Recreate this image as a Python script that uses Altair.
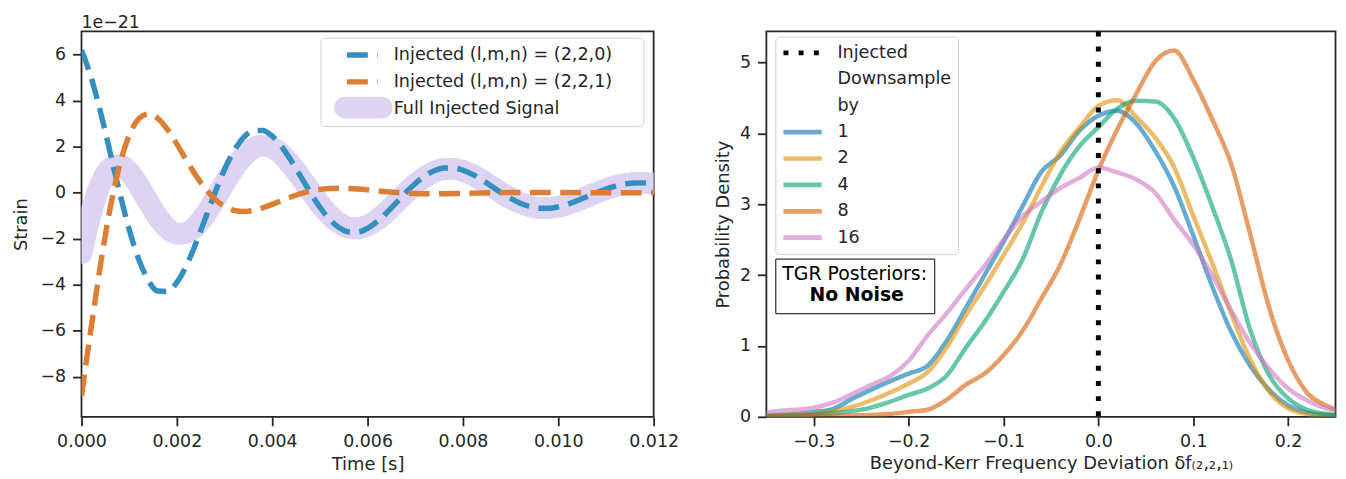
import altair as alt
import pandas as pd

FONT = "DejaVu Sans"
INK = "#262626"

# ---------------- left panel: strain in units of 1e-21 ----------------
time_s = [0.0, 0.0002, 0.0004, 0.0006, 0.0008, 0.001, 0.0012, 0.0014, 0.0016, 0.0018,
          0.002, 0.0022, 0.0024, 0.0026, 0.0028, 0.003, 0.0032, 0.0034, 0.0036, 0.0038,
          0.004, 0.0042, 0.0044, 0.0046, 0.0048, 0.005, 0.0052, 0.0054, 0.0056, 0.0058,
          0.006, 0.0062, 0.0064, 0.0066, 0.0068, 0.007, 0.0072, 0.0074, 0.0076, 0.0078,
          0.008, 0.0082, 0.0084, 0.0086, 0.0088, 0.009, 0.0092, 0.0094, 0.0096, 0.0098,
          0.01, 0.0102, 0.0104, 0.0106, 0.0108, 0.011, 0.0112, 0.0114, 0.0116, 0.0118, 0.012]
mode_220 = [6.182, 5.021, 3.484, 1.749, 0.0, -1.594, -2.896, -3.806, -4.272, -4.290,
            -3.896, -3.164, -2.195, -1.102, 0.0, 1.005, 1.825, 2.399, 2.693, 2.703,
            2.455, 1.994, 1.383, 0.694, 0.0, -0.633, -1.150, -1.511, -1.697, -1.703,
            -1.546, -1.256, -0.872, -0.438, 0.0, 0.399, 0.725, 0.952, 1.069, 1.073,
            0.975, 0.792, 0.550, 0.276, 0.0, -0.252, -0.457, -0.600, -0.673, -0.676,
            -0.614, -0.499, -0.346, -0.174, 0.0, 0.159, 0.288, 0.378, 0.424, 0.426, 0.387]
mode_221 = [-8.807, -5.899, -3.108, -0.692, 1.194, 2.490, 3.207, 3.417, 3.225, 2.749,
            2.110, 1.414, 0.745, 0.166, -0.286, -0.597, -0.768, -0.819, -0.773, -0.659,
            -0.506, -0.339, -0.179, -0.040, 0.069, 0.143, 0.184, 0.196, 0.185, 0.157,
            0.121, 0.081, 0.043, 0.010, -0.016, -0.034, -0.044, -0.047, -0.044, -0.038,
            -0.029, -0.019, -0.010, -0.003, 0.003, 0.007, 0.009, 0.010, 0.009, 0.008,
            0.006, 0.004, 0.002, 0.0, -0.001, -0.002, -0.002, -0.002, -0.002, -0.001, -0.001]
full_signal = [-2.625, -0.878, 0.376, 1.057, 1.194, 0.896, 0.311, -0.389, -1.047, -1.541,
               -1.786, -1.750, -1.450, -0.936, -0.286, 0.408, 1.057, 1.580, 1.920, 2.044,
               1.949, 1.655, 1.204, 0.654, 0.069, -0.490, -0.966, -1.315, -1.512, -1.546,
               -1.425, -1.175, -0.829, -0.428, -0.016, 0.365, 0.681, 0.905, 1.025, 1.035,
               0.946, 0.773, 0.540, 0.273, 0.003, -0.245, -0.448, -0.590, -0.664, -0.668,
               -0.608, -0.495, -0.344, -0.174, -0.001, 0.157, 0.286, 0.376, 0.422, 0.425, 0.386]
series_names = ["Injected (l,m,n) = (2,2,0)", "Injected (l,m,n) = (2,2,1)", "Full Injected Signal"]
series_colors = ["#348fc1", "#dd7e33", "#ddd4f4"]
time_ticks = [0.0, 0.002, 0.004, 0.006, 0.008, 0.010, 0.012]
strain_ticks = [-8, -6, -4, -2, 0, 2, 4, 6]

# ---------------- right panel: posterior densities ----------------
delta_f = [-0.36, -0.34, -0.32, -0.30, -0.28, -0.26, -0.24, -0.22, -0.20, -0.18,
           -0.16, -0.14, -0.12, -0.10, -0.08, -0.06, -0.04, -0.02, 0.00, 0.02,
           0.04, 0.06, 0.08, 0.10, 0.12, 0.14, 0.16, 0.18, 0.20, 0.22, 0.24, 0.26]
kde_1 = [0.015, 0.025, 0.04, 0.07, 0.11, 0.25, 0.38, 0.5, 0.61, 0.72,
         1.07, 1.53, 2.0, 2.47, 2.97, 3.46, 3.69, 4.04, 4.25, 4.32,
         4.14, 3.75, 3.25, 2.56, 1.84, 1.2, 0.72, 0.38, 0.16, 0.06, 0.025, 0.015]
kde_2 = [0.01, 0.015, 0.025, 0.04, 0.08, 0.14, 0.23, 0.34, 0.47, 0.63,
         0.98, 1.43, 1.84, 2.28, 2.73, 3.25, 3.74, 4.08, 4.39, 4.47,
         4.23, 3.94, 3.52, 2.84, 2.17, 1.46, 0.81, 0.36, 0.12, 0.04, 0.015, 0.01]
kde_4 = [0.005, 0.01, 0.02, 0.03, 0.05, 0.08, 0.13, 0.21, 0.31, 0.4,
         0.58, 0.97, 1.34, 1.76, 2.22, 2.89, 3.42, 3.82, 4.09, 4.35,
         4.46, 4.45, 4.21, 3.66, 2.97, 2.21, 1.23, 0.59, 0.26, 0.1, 0.04, 0.015]
kde_8 = [0.0, 0.005, 0.01, 0.01, 0.015, 0.02, 0.025, 0.04, 0.07, 0.1,
         0.24, 0.45, 0.61, 0.87, 1.21, 1.67, 2.15, 2.79, 3.48, 4.06,
         4.56, 5.02, 5.17, 4.76, 4.2, 3.57, 2.58, 1.54, 0.8, 0.34, 0.16, 0.06]
kde_16 = [0.05, 0.08, 0.1, 0.13, 0.2, 0.32, 0.45, 0.57, 0.79, 1.15,
          1.46, 1.8, 2.13, 2.5, 2.83, 3.04, 3.23, 3.37, 3.52, 3.45,
          3.35, 3.16, 2.78, 2.43, 2.0, 1.5, 1.04, 0.68, 0.4, 0.23, 0.12, 0.07]
downsample = ["1", "2", "4", "8", "16"]
ds_colors = ["rgba(1,115,178,0.6)", "rgba(222,143,5,0.6)", "rgba(2,158,115,0.6)",
             "rgba(213,94,0,0.6)", "rgba(204,120,188,0.6)"]
injected_value = [0.0]
legend_entries = ["Injected", "Downsample", "by"] + downsample
legend_colors = ["black", "transparent", "transparent"] + ds_colors
legend_dashes = [[5, 10.3], [1, 0], [1, 0], [1, 0], [1, 0], [1, 0], [1, 0], [1, 0]]
dev_ticks = [-0.3, -0.2, -0.1, 0.0, 0.1, 0.2]
density_ticks = [0, 1, 2, 3, 4, 5]

# ---------------- tables ----------------
left_rows = []
for name, vals in zip(series_names, [mode_220, mode_221, full_signal]):
    for t, v in zip(time_s, vals):
        left_rows.append({"t": t, "strain": v, "series": name})
left_df = pd.DataFrame(left_rows)

right_rows = []
for ds, vals in zip(downsample, [kde_1, kde_2, kde_4, kde_8, kde_16]):
    for x, v in zip(delta_f, vals):
        right_rows.append({"df": x, "density": v, "entry": ds})
right_df = pd.DataFrame(right_rows)
inj_df = pd.DataFrame({"x0": injected_value, "entry": ["Injected"]})
note_df = pd.DataFrame({"note": ["No Noise"]})

# ---------------- left chart ----------------
x_left = alt.X("t:Q", scale=alt.Scale(domain=[0, 0.012], nice=False, zero=False),
               axis=alt.Axis(values=time_ticks, format=".3f", title="Time [s]",
                             labelFlush=False, titleY=48, titleBaseline="middle"))
y_left = alt.Y("strain:Q", scale=alt.Scale(domain=[-9.73, 7.0], nice=False, zero=False),
               axis=alt.Axis(values=strain_ticks, format="d", title="Strain",
                             titleX=-60.4, titleBaseline="middle"))

legend_lines = alt.Legend(
    title=None, orient="none", legendX=240.6, legendY=6.3, padding=5,
    symbolType="stroke", symbolSize=967, symbolStrokeWidth=5.5,
    clipHeight=25, rowPadding=2, symbolOffset=18.7, labelOffset=13,
    labelFont=FONT, labelFontSize=17.7, labelColor=INK, labelLimit=400,
    labelExpr="datum.label + '\u2800\u2800'",
    strokeColor="#d0d0d0", fillColor="white", cornerRadius=4)

PILL = ("M-0.627,-0.373H0.627A0.373,0.373,0,0,1,0.627,0.373"
        "H-0.627A0.373,0.373,0,0,1,-0.627,-0.373Z")
legend_pill = alt.Legend(
    title=None, orient="none", legendX=254.2, legendY=64.2, padding=0,
    symbolType=PILL, symbolSize=3481, symbolFillColor="#ddd4f4",
    symbolStrokeColor="#ddd4f4", symbolStrokeWidth=0, symbolOpacity=1,
    clipHeight=25, labelExpr="''")

color_left = alt.Color("series:N", sort=series_names,
                       scale=alt.Scale(domain=series_names, range=series_colors),
                       legend=legend_lines)
dash_left = alt.StrokeDash("series:N", sort=series_names,
                           scale=alt.Scale(domain=series_names,
                                           range=[[21, 9.5], [21, 9.5], [1, 0]]),
                           legend=legend_lines)

base_left = alt.Chart(left_df)
band = base_left.transform_filter(alt.datum.series == "Full Injected Signal").mark_line(
    strokeWidth=22, strokeCap="round", clip=True, interpolate="monotone"
).encode(
    x=x_left, y=y_left, color=color_left,
    opacity=alt.Opacity("series:N",
                        scale=alt.Scale(domain=["Full Injected Signal"], range=[1, 1]),
                        legend=legend_pill),
)
modes = base_left.transform_filter(alt.datum.series != "Full Injected Signal").mark_line(
    strokeWidth=5.5, clip=True, interpolate="monotone"
).encode(x=x_left, y=y_left, color=color_left, strokeDash=dash_left, detail="series:N")

left = alt.layer(band, modes).properties(
    width=576, height=388,
    title=alt.TitleParams(text="1e\u221221", anchor="start", frame="group", fontSize=17.5,
                          fontWeight="normal", font=FONT, color=INK, offset=-14,
                          baseline="alphabetic"),
)

# ---------------- right chart ----------------
x_right = alt.X("df:Q", scale=alt.Scale(domain=[-0.35, 0.25], nice=False, zero=False),
                axis=alt.Axis(values=dev_ticks, format=".1f", labelFlush=False,
                              title="Beyond-Kerr Frequency Deviation \u03b4f\u208d\u2082\u201a\u2082\u201a\u2081\u208e",
                              titleY=47, titleBaseline="middle"))
y_right = alt.Y("density:Q", scale=alt.Scale(domain=[0, 5.44], nice=False, zero=True),
                axis=alt.Axis(values=density_ticks, format="d", title="Probability Density",
                              titleX=-43.4, titleBaseline="middle"))

legend_right = alt.Legend(
    title=None, orient="none", legendX=9, legendY=5.2, padding=7,
    symbolType="stroke", symbolSize=1490, symbolStrokeWidth=4.7,
    clipHeight=18.7, rowPadding=7.59, symbolOffset=-1.5, labelOffset=13,
    labelFont=FONT, labelFontSize=17.7, labelColor=INK,
    strokeColor="#d0d0d0", fillColor="white", cornerRadius=4)

color_right = alt.Color("entry:N", sort=legend_entries,
                        scale=alt.Scale(domain=legend_entries, range=legend_colors),
                        legend=legend_right)
dash_right = alt.StrokeDash("entry:N", sort=legend_entries,
                            scale=alt.Scale(domain=legend_entries, range=legend_dashes),
                            legend=legend_right)

kde = alt.Chart(right_df).mark_line(
    strokeWidth=4.5, interpolate="monotone", clip=True
).encode(x=x_right, y=y_right, color=color_right)

injected = alt.Chart(inj_df).mark_rule(strokeWidth=5).encode(
    x=alt.X("x0:Q"), color=color_right, strokeDash=dash_right,
)

note = alt.Chart(note_df).mark_point(opacity=0).encode(
    shape=alt.Shape("note:N", scale=alt.Scale(domain=["No Noise"]),
                    legend=alt.Legend(title="TGR Posteriors:", orient="none",
                                      legendX=9, legendY=228.7, padding=7,
                                      titleFont=FONT, titleFontSize=19,
                                      titleFontWeight="normal", titleColor="black",
                                      titlePadding=0.5, labelFont=FONT, labelFontSize=19,
                                      labelFontWeight="bold", labelColor="black",
                                      symbolOpacity=0, clipHeight=21, labelOffset=8.3,
                                      strokeColor="black", fillColor="white",
                                      cornerRadius=0)),
)

right = alt.layer(kde, injected, note).properties(width=573, height=388)

chart = alt.hconcat(left, right, spacing=113.5, bounds="flush").resolve_scale(
    color="independent", strokeDash="independent", shape="independent",
    opacity="independent"
).resolve_legend(
    color="independent", strokeDash="independent", shape="independent",
    opacity="independent"
).properties(
    padding={"left": 3, "right": 1, "top": 3, "bottom": 0}
).configure_view(
    stroke=INK, strokeWidth=1.8
).configure_axis(
    domain=False, grid=False, ticks=True, tickSize=9, tickWidth=1.8, tickColor=INK,
    labelFont=FONT, labelFontSize=17.5, labelColor=INK, labelPadding=7,
    titleFont=FONT, titleFontSize=18, titleFontWeight="normal", titleColor=INK,
)

chart.save("out.html", embed_options={"renderer": "svg", "actions": False})
